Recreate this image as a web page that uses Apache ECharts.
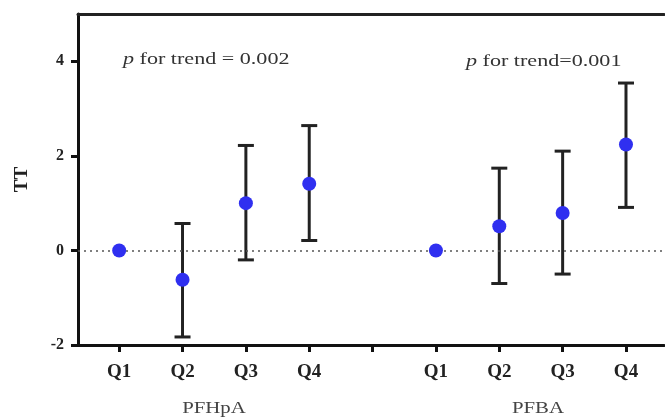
<!DOCTYPE html>
<html><head><meta charset="utf-8">
<script src="https://cdn.jsdelivr.net/npm/echarts@6/dist/echarts.min.js"></script>
<style>html,body{margin:0;padding:0;background:#fff}#c{width:665px;height:417px}</style>
</head><body><div id="c"></div>
<script>
// Data
const groups = ['PFHpA', 'PFBA'];
const quartiles = ['Q1', 'Q2', 'Q3', 'Q4'];
const pfhpaMean  = [0, -0.62, 1.00, 1.41];
const pfhpaLower = [null, -1.83, -0.20, 0.21];
const pfhpaUpper = [null, 0.57, 2.22, 2.64];
const pfbaMean   = [0, 0.51, 0.79, 2.24];
const pfbaLower  = [null, -0.70, -0.50, 0.91];
const pfbaUpper  = [null, 1.74, 2.10, 3.54];
const trendTexts = ['p for trend = 0.002', 'p for trend=0.001'];
const yTicks = [-2, 0, 2, 4];

// x positions: group 1 at 1..4, separator tick at 5, group 2 at 6..9
const xPos1 = quartiles.map((q, i) => i + 1);
const xPos2 = quartiles.map((q, i) => i + 6);
const labelMap = {};
xPos1.forEach((x, i) => labelMap[x] = quartiles[i]);
xPos2.forEach((x, i) => labelMap[x] = quartiles[i]);

const pts = [];
const bars = [];
[[xPos1, pfhpaMean, pfhpaLower, pfhpaUpper], [xPos2, pfbaMean, pfbaLower, pfbaUpper]].forEach(([xs, m, lo, hi]) => {
  xs.forEach((x, i) => {
    pts.push([x, m[i]]);
    if (lo[i] != null) bars.push([x, lo[i], hi[i]]);
  });
});

const serif = '"Liberation Serif", "DejaVu Serif", serif';
const richTrend = (t) => ({
  rich: {
    i: { fontStyle: 'italic', fontFamily: serif, fontSize: 17, fill: '#333' },
    n: { fontFamily: serif, fontSize: 17, fill: '#333' }
  },
  text: '{i|' + t.slice(0, 1) + '}{n|' + t.slice(1) + '}'
});
const chart = echarts.init(document.getElementById('c'));
chart.setOption({
  animation: false,
  grid: { left: 78, right: 1, top: 14, bottom: 72 },
  xAxis: [{
    type: 'value', min: 0.35, max: 9.6,
    splitLine: { show: false },
    axisLine: { show: true, onZero: false, lineStyle: { color: '#111', width: 3 } },
    axisTick: { show: true, customValues: [1,2,3,4,5,6,7,8,9], length: 7, lineStyle: { color: '#111', width: 3 } },
    axisLabel: { customValues: xPos1.concat(xPos2), formatter: v => labelMap[v] || '', margin: 18,
      fontFamily: serif, fontWeight: 'bold', fontSize: 19, color: '#222' }
  }, {
    type: 'value', min: 0.35, max: 9.6, position: 'top',
    splitLine: { show: false },
    axisLine: { show: true, onZero: false, lineStyle: { color: '#222', width: 3 } },
    axisTick: { show: false }, axisLabel: { show: false }
  }],
  yAxis: {
    type: 'value', min: -2, max: 5,
    name: 'TT', nameLocation: 'middle', nameGap: 46, nameRotate: 90,
    nameTextStyle: { fontFamily: serif, fontWeight: 'bold', fontSize: 19, color: '#222' },
    splitLine: { show: false },
    axisLine: { show: true, onZero: false, lineStyle: { color: '#111', width: 3 } },
    axisTick: { show: true, customValues: yTicks, length: 7, lineStyle: { color: '#111', width: 3 } },
    axisLabel: { customValues: yTicks, fontFamily: serif, fontWeight: 'bold', fontSize: 16, color: '#222', margin: 14 }
  },
  graphic: [
    { type: 'text', x: 123, y: 51, scaleX: 1.3, style: richTrend(trendTexts[0]) },
    { type: 'text', x: 466, y: 53, scaleX: 1.3, style: richTrend(trendTexts[1]) },
    { type: 'text', x: 214, y: 409, scaleX: 1.3, style: { text: groups[0], fontFamily: serif, fontSize: 16, fill: '#444', align: 'center', verticalAlign: 'middle' } },
    { type: 'text', x: 538, y: 409, scaleX: 1.3, style: { text: groups[1], fontFamily: serif, fontSize: 16, fill: '#444', align: 'center', verticalAlign: 'middle' } }
  ],
  series: [{
    type: 'custom',
    data: bars,
    z: 3,
    renderItem: (params, api) => {
      const x = api.value(0);
      const lo = api.coord([x, api.value(1)]);
      const hi = api.coord([x, api.value(2)]);
      const w = 8;
      const st = { stroke: '#222', lineWidth: 3 };
      return { type: 'group', children: [
        { type: 'line', shape: { x1: lo[0], y1: lo[1], x2: hi[0], y2: hi[1] }, style: st },
        { type: 'line', shape: { x1: lo[0]-w, y1: lo[1], x2: lo[0]+w, y2: lo[1] }, style: st },
        { type: 'line', shape: { x1: hi[0]-w, y1: hi[1], x2: hi[0]+w, y2: hi[1] }, style: st }
      ]};
    }
  }, {
    type: 'scatter',
    data: pts,
    z: 5,
    symbolSize: 14,
    itemStyle: { color: '#2f2ff0', opacity: 1 },
    markLine: {
      silent: true, symbol: 'none', label: { show: false },
      lineStyle: { color: '#555', type: [2, 4], width: 1.5 },
      data: [{ yAxis: 0 }]
    }
  }]
});
</script></body></html>
